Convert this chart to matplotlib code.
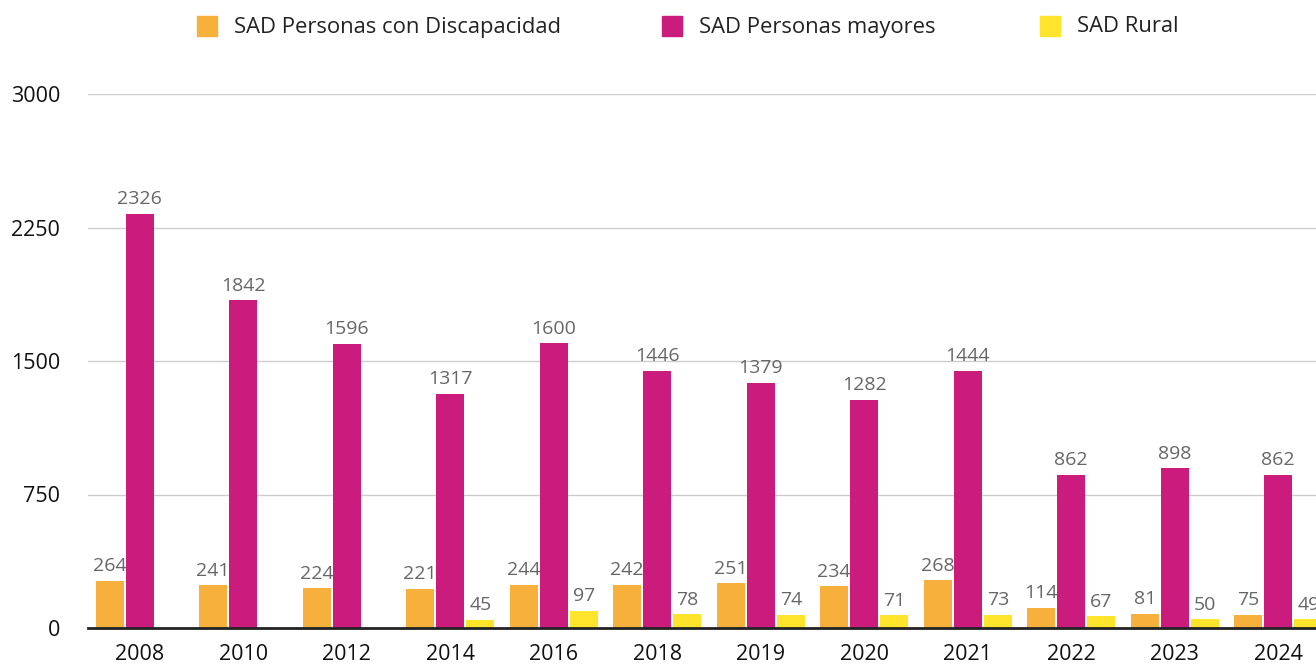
import numpy as np
import matplotlib
matplotlib.use('Agg')
import matplotlib.pyplot as plt
from matplotlib.patches import Rectangle

plt.rcParams['font.family'] = ['Open Sans', 'DejaVu Sans']

years = ['2008', '2010', '2012', '2014', '2016', '2018', '2019', '2020', '2021', '2022', '2023', '2024']
discapacidad = [264, 241, 224, 221, 244, 242, 251, 234, 268, 114, 81, 75]
mayores = [2326, 1842, 1596, 1317, 1600, 1446, 1379, 1282, 1444, 862, 898, 862]
rural = [None, None, None, 45, 97, 78, 74, 71, 73, 67, 50, 49]

series_names = ['SAD Personas con Discapacidad', 'SAD Personas mayores', 'SAD Rural']
colors = ['#f8b03c', '#cb1b7d', '#fee42b']

fig = plt.figure(figsize=(13.16, 6.65), dpi=100)
# axes run slightly past the right edge, like the reference (clipped)
ax = fig.add_axes([88 / 1316, 37 / 665, 1242 / 1316, 534 / 665])

x = np.arange(len(years))
width = 0.27
offsets = [-0.29, 0.0, 0.29]

for vals, off, col in zip([discapacidad, mayores, rural], offsets, colors):
    xs = [xi + off for xi, v in zip(x, vals) if v is not None]
    vs = [v for v in vals if v is not None]
    bars = ax.bar(xs, vs, width, color=col, zorder=3)
    for b, v in zip(bars, vs):
        ax.annotate(str(v), (b.get_x() + b.get_width() / 2, v),
                    xytext=(0, 4), textcoords='offset points',
                    ha='center', va='bottom', fontsize=14, color='#666666',
                    annotation_clip=False, zorder=4)

ax.set_xlim(-0.5, 11.5)
ax.set_ylim(0, 3000)
ax.set_yticks([0, 750, 1500, 2250, 3000])
ax.set_xticks(x)
ax.set_xticklabels(years)
ax.tick_params(axis='both', length=0, labelsize=15.5, colors='#111111')
ax.tick_params(axis='x', pad=11.5)
ax.tick_params(axis='y', pad=20)

ax.grid(axis='y', color='#cccccc', linewidth=1, zorder=0)
for s in ['top', 'right', 'left']:
    ax.spines[s].set_visible(False)
ax.spines['bottom'].set_color('#222222')
ax.spines['bottom'].set_linewidth(2)
ax.spines['bottom'].set_zorder(5)

# legend drawn by hand along the top
legend_x = [197, 662, 1040]
for name, col, lx in zip(series_names, colors, legend_x):
    fig.patches.append(Rectangle((lx / 1316, 1 - 36 / 665), 20 / 1316, 20 / 665,
                                 transform=fig.transFigure, color=col))
    fig.text((lx + 37) / 1316, 1 - 27 / 665, name, fontsize=15.8,
             color='#222222', va='center', ha='left')

fig.savefig('out.png', dpi=100)
